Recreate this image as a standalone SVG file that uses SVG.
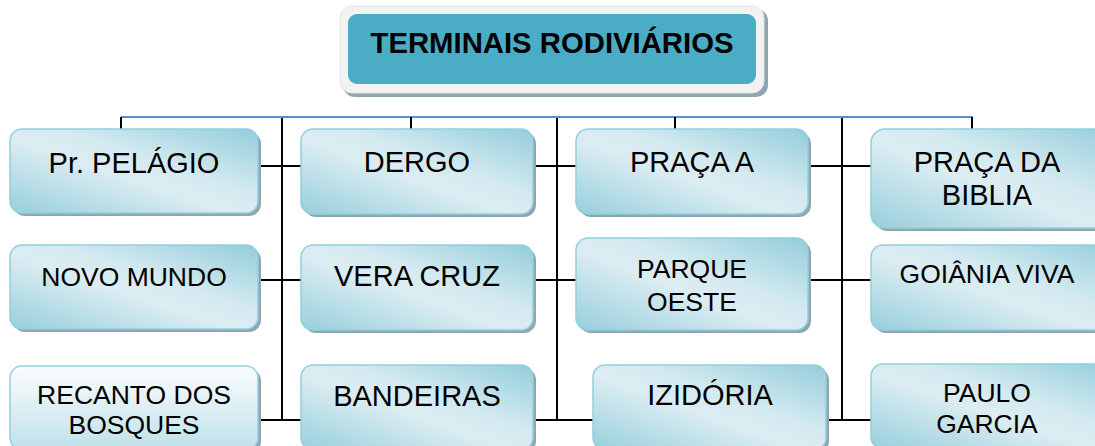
<svg xmlns="http://www.w3.org/2000/svg" width="1095" height="446" viewBox="0 0 1095 446">
<defs>
<linearGradient id="g" x1="0" y1="1" x2="1" y2="0">
<stop offset="0" stop-color="#96cfdc"/>
<stop offset="0.45" stop-color="#dcedf2"/>
<stop offset="0.6" stop-color="#d4eaf0"/>
<stop offset="1" stop-color="#93cddb"/>
</linearGradient>
<linearGradient id="gw" x1="0" y1="0" x2="0" y2="1">
<stop offset="0" stop-color="#fbfdfe"/>
<stop offset="1" stop-color="#bfe1ea"/>
</linearGradient>
<style>
.sh{fill:#8ea6b0}
.bx{fill:url(#g);stroke:#92cfdd;stroke-width:1.5}
.bw{fill:url(#gw);stroke:#92cfdd;stroke-width:1.5}
.t{font-family:"Liberation Sans",Arial,sans-serif;fill:#000;text-anchor:middle}
.L{font-size:29px}
.S{font-size:26.5px}
.c{stroke:#000;stroke-width:2;fill:none}
.b{stroke:#5b8dd6;stroke-width:2;fill:none}
</style>
</defs>
<rect width="1095" height="446" fill="#fff"/>

<g id="connectors">
<line class="b" x1="121" y1="117" x2="973" y2="117"/>
<path class="c" d="M121,117V129 M411,117V129 M675,117V129 M972,117V129"/>
<path class="c" d="M282,118V421 M258,166H301 M258,280H301 M258,420H301"/>
<path class="c" d="M557,118V421 M533,166H576 M533,280H576 M533,420H593"/>
<path class="c" d="M842,118V421 M808,166H871 M808,280H871 M826,420H871"/>
</g>

<g id="title">
<rect x="343" y="9" width="425" height="88" rx="12" class="sh"/>
<rect x="340" y="6" width="424" height="87" rx="12" fill="#f2f2f2" stroke="#e4e4e4" stroke-width="1"/>
<rect x="348" y="14" width="408" height="70" rx="9" fill="#4bacc6"/>
<text x="552" y="53" class="t" font-size="29.3" font-weight="bold">TERMINAIS RODIVIÁRIOS</text>
</g>

<g id="n-pelagio">
<rect x="13" y="132" width="248" height="84" rx="12" class="sh"/>
<rect x="10" y="129" width="248" height="84" rx="12" class="bx"/>
<text x="134" y="173" class="t L">Pr. PELÁGIO</text>
</g>
<g id="n-novomundo">
<rect x="13" y="248" width="248" height="84" rx="12" class="sh"/>
<rect x="10" y="245" width="248" height="84" rx="12" class="bx"/>
<text x="134" y="286" class="t S">NOVO MUNDO</text>
</g>
<g id="n-recanto">
<rect x="13" y="369" width="248" height="84" rx="12" class="sh"/>
<rect x="10" y="366" width="248" height="84" rx="12" class="bw"/>
<text x="134" y="404" class="t S">RECANTO DOS</text>
<text x="134" y="434" class="t S">BOSQUES</text>
</g>

<g id="n-dergo">
<rect x="304" y="132" width="232" height="85" rx="12" class="sh"/>
<rect x="301" y="129" width="232" height="85" rx="12" class="bx"/>
<text x="417" y="172" class="t L">DERGO</text>
</g>
<g id="n-veracruz">
<rect x="304" y="248" width="232" height="85" rx="12" class="sh"/>
<rect x="301" y="245" width="232" height="85" rx="12" class="bx"/>
<text x="417" y="286" class="t L">VERA CRUZ</text>
</g>
<g id="n-bandeiras">
<rect x="304" y="368" width="232" height="85" rx="12" class="sh"/>
<rect x="301" y="365" width="232" height="85" rx="12" class="bx"/>
<text x="417" y="406" class="t L">BANDEIRAS</text>
</g>

<g id="n-pracaa">
<rect x="579" y="132" width="232" height="85" rx="12" class="sh"/>
<rect x="576" y="129" width="232" height="85" rx="12" class="bx"/>
<text x="692" y="172" class="t L">PRAÇA A</text>
</g>
<g id="n-parqueoeste">
<rect x="579" y="241" width="232" height="92" rx="12" class="sh"/>
<rect x="576" y="238" width="232" height="92" rx="12" class="bx"/>
<text x="692" y="278" class="t S">PARQUE</text>
<text x="692" y="311" class="t S">OESTE</text>
</g>
<g id="n-izidoria">
<rect x="596" y="368" width="233" height="85" rx="12" class="sh"/>
<rect x="593" y="365" width="233" height="85" rx="12" class="bx"/>
<text x="710" y="405" class="t L">IZIDÓRIA</text>
</g>

<g id="n-biblia">
<rect x="874" y="132" width="250" height="99" rx="14" class="sh"/>
<rect x="871" y="129" width="250" height="99" rx="14" class="bx"/>
<text x="987" y="172" class="t L">PRAÇA DA</text>
<text x="987" y="205" class="t L">BIBLIA</text>
</g>
<g id="n-goiania">
<rect x="874" y="248" width="250" height="85" rx="12" class="sh"/>
<rect x="871" y="245" width="250" height="85" rx="12" class="bx"/>
<text x="987" y="283" class="t S">GOIÂNIA VIVA</text>
</g>
<g id="n-paulogarcia">
<rect x="874" y="367" width="250" height="85" rx="12" class="sh"/>
<rect x="871" y="364" width="250" height="85" rx="12" class="bx"/>
<text x="987" y="402" class="t S">PAULO</text>
<text x="987" y="433" class="t S">GARCIA</text>
</g>
</svg>
